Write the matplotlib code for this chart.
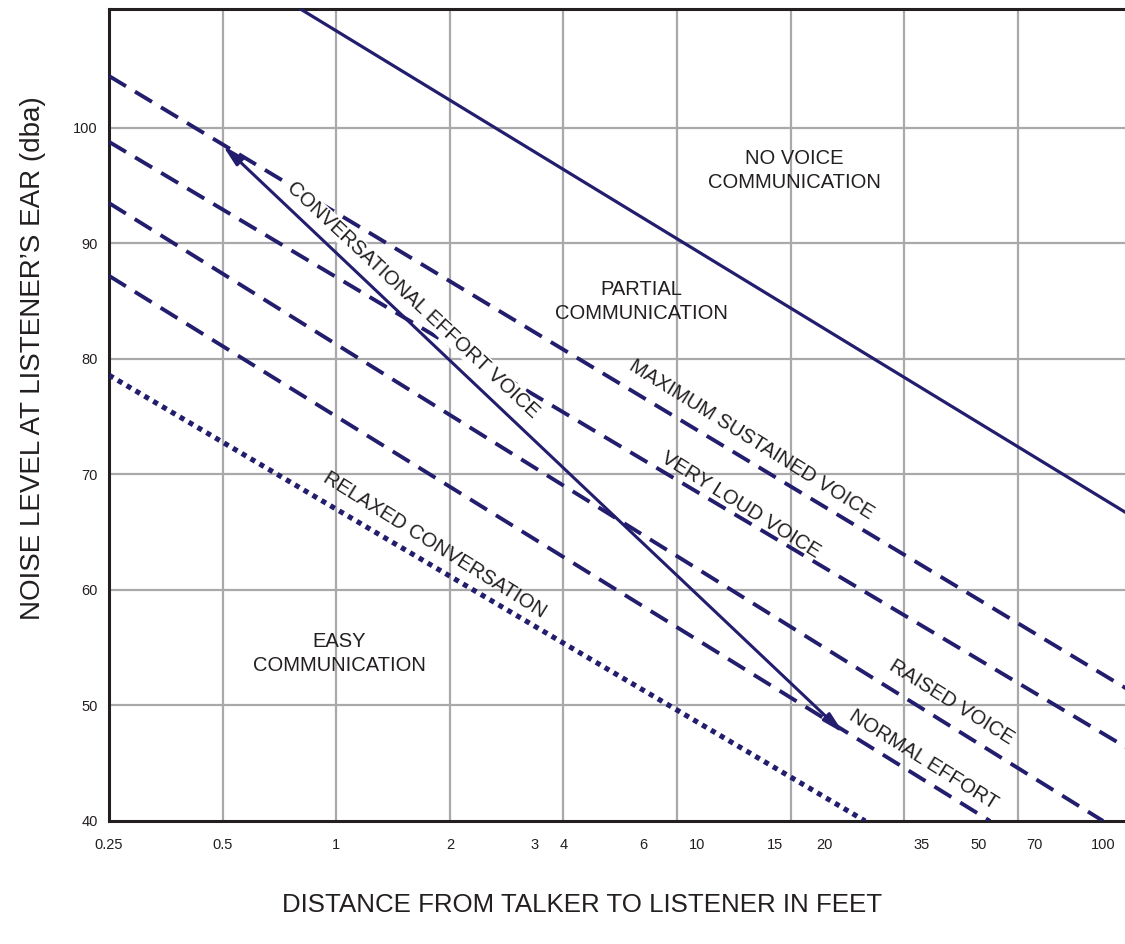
import matplotlib.pyplot as plt
from matplotlib.ticker import FixedLocator, NullFormatter

plt.rcParams['font.family'] = ['Liberation Sans', 'DejaVu Sans']

# Line end points: distance (feet) and noise level (dBA)
no_voice_ft = [0.75, 128]
no_voice_db = [110.9, 66.4]
max_sustained_ft = [0.25, 128]
max_sustained_db = [104.5, 51.2]
very_loud_ft = [0.25, 128]
very_loud_db = [98.8, 46.1]
raised_ft = [0.25, 107.6]
raised_db = [93.5, 40.0]
normal_ft = [0.25, 54.0]
normal_db = [87.2, 40.0]
relaxed_ft = [0.25, 25.2]
relaxed_db = [78.6, 40.0]
conversational_ft = [0.5, 22.1]
conversational_db = [98.5, 47.6]

# Axis ticks / grid (the original chart is hand drawn, ticks are not exact)
x_grid = [0.5, 1, 2, 4, 8, 16, 32, 64]
y_ticks = [40, 50, 60, 70, 80, 90, 100]
x_label_pos = [0.25, 0.5, 1, 2, 3.36, 4, 6.5, 9.04, 14.5, 19.6, 35.5, 50.5, 70.7, 107.6]
x_label_text = ['0.25', '0.5', '1', '2', '3', '4', '6', '10', '15', '20', '35', '50', '70', '100']
x_mark_pos = [3.36, 6.5, 9.04, 14.5, 19.6, 35.5, 50.5, 70.7, 107.6]

navy = '#231d6e'
ink = '#231f20'
grey = '#a9a9ab'

fig = plt.figure(figsize=(11.25, 9.44), dpi=100)
ax = fig.add_axes([109 / 1125, 1 - 821 / 944, 1 - 109 / 1125, (821 - 9) / 944])
ax.set_xscale('log', base=2)
ax.set_xlim(0.25, 123)
ax.set_ylim(40, 110.3)

# Grid
for x in x_grid:
    ax.axvline(x, color=grey, lw=1.6, zorder=1)
for y in y_ticks[1:]:
    ax.axhline(y, color=grey, lw=1.6, zorder=1)

# Ticks
ax.xaxis.set_major_locator(FixedLocator(x_label_pos))
ax.set_xticklabels(x_label_text)
ax.xaxis.set_minor_locator(FixedLocator(x_mark_pos))
ax.xaxis.set_minor_formatter(NullFormatter())
ax.tick_params(axis='x', which='major', length=0, pad=12, labelsize=10.5, labelcolor=ink)
ax.tick_params(axis='x', which='minor', direction='in', length=9.5, width=1.5, color=ink)
ax.set_yticks(y_ticks)
ax.tick_params(axis='y', length=0, pad=8, labelsize=10.5, labelcolor=ink)

for side in ['left', 'bottom', 'top']:
    ax.spines[side].set_linewidth(2.2)
    ax.spines[side].set_color(ink)
ax.spines['right'].set_visible(False)

# Lines
dash = (0, (5.1, 2.7))
ax.plot(no_voice_ft, no_voice_db, color=navy, lw=2.3, zorder=3)
ax.plot(max_sustained_ft, max_sustained_db, color=navy, lw=2.8, ls=dash, dash_capstyle='butt', zorder=3)
ax.plot(very_loud_ft, very_loud_db, color=navy, lw=2.8, ls=dash, dash_capstyle='butt', zorder=3)
ax.plot(raised_ft, raised_db, color=navy, lw=2.8, ls=dash, dash_capstyle='butt', zorder=3)
ax.plot(normal_ft, normal_db, color=navy, lw=2.8, ls=dash, dash_capstyle='butt', zorder=3)
ax.plot(relaxed_ft, relaxed_db, color=navy, lw=3.7, ls=(0, (1, 1.0)), dash_capstyle='butt', zorder=3)
ax.annotate('', xy=(conversational_ft[1], conversational_db[1]),
            xytext=(conversational_ft[0], conversational_db[0]),
            arrowprops=dict(arrowstyle='<|-|>,head_length=0.9,head_width=0.22', color=navy,
                            lw=2.2, shrinkA=0, shrinkB=0, mutation_scale=14),
            zorder=4)

# Region labels
region_kw = dict(ha='center', va='center', fontsize=14.5, color=ink, linespacing=1.35)
ax.text(16.4, 96.3, 'NO VOICE\nCOMMUNICATION', **region_kw)
ax.text(6.42, 85.0, 'PARTIAL\nCOMMUNICATION', **region_kw)
ax.text(1.02, 54.5, 'EASY\nCOMMUNICATION', **region_kw)

# Labels along the lines
kw = dict(ha='center', va='center', rotation_mode='anchor', fontsize=14.5, color=ink, zorder=5)
ax.text(1.60, 85.1, 'CONVERSATIONAL EFFORT VOICE', rotation=-43,
        bbox=dict(fc='white', ec='none', pad=0.5), **kw)
ax.text(12.6, 73.0, 'MAXIMUM SUSTAINED VOICE', rotation=-32, **kw)
ax.text(11.8, 67.4, 'VERY LOUD VOICE', rotation=-32, **kw)
ax.text(42.6, 50.3, 'RAISED VOICE', rotation=-32, **kw)
ax.text(35.9, 45.3, 'NORMAL EFFORT', rotation=-32, **kw)
ax.text(1.82, 63.9, 'RELAXED CONVERSATION', rotation=-32, **kw)

# Axis titles
fig.text(33 / 1125, 1 - 358 / 944, 'NOISE LEVEL AT LISTENER\u2019S EAR (dba)', rotation=90,
         ha='center', va='center', fontsize=20, color=ink)
fig.text(582 / 1125, 1 - 905 / 944, 'DISTANCE FROM TALKER TO LISTENER IN FEET',
         ha='center', va='center', fontsize=18.6, color=ink)

fig.savefig('out.png', dpi=100)
